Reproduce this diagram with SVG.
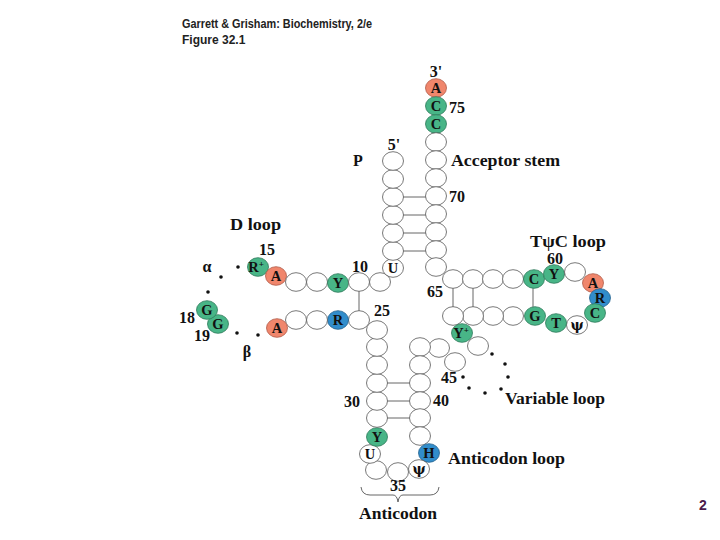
<svg xmlns="http://www.w3.org/2000/svg" width="720" height="540" viewBox="0 0 720 540">
<style>
.n{fill:#fff;stroke:#555;stroke-width:0.8}
.g{fill:#48b587;stroke:#2f7a5a;stroke-width:0.8}
.s{fill:#f0866c;stroke:#b05a48;stroke-width:0.8}
.b{fill:#318dcb;stroke:#25628e;stroke-width:0.8}
.t{font-family:"Liberation Serif","DejaVu Serif",serif;font-weight:bold;font-size:14.5px;fill:#111;text-anchor:middle}
.psi{font-family:"DejaVu Serif","Liberation Serif",serif;font-size:14px}
.l{font-family:"Liberation Serif","DejaVu Serif",serif;font-weight:bold;font-size:16px;fill:#111}
.c{text-anchor:middle}
.h{font-family:"Liberation Sans",Arial,sans-serif;font-weight:bold;font-size:12px;fill:#222}
.p{stroke:#555;stroke-width:0.9;fill:none}
.d{fill:#111}
</style>
<rect width="720" height="540" fill="#fff"/>
<text class="h" x="182" y="28" textLength="190" lengthAdjust="spacingAndGlyphs">Garrett &amp; Grisham: Biochemistry, 2/e</text>
<text class="h" x="182" y="44">Figure 32.1</text>
<g id="connectors">
<path class="p" d="M403 197H426M403 215H426M403 233H426M403 251H426"/>
<path class="p" d="M359 291V311"/>
<path class="p" d="M387 383H410M387 401H410M387 418H410"/>
<path class="p" d="M453 287V308M473 287V308M533 287V308"/>
<path class="p" d="M361 487Q362 495 370 495H393Q397 495 398 502Q399 495 403 495H430Q438 495 439 487"/>
<g class="d">
<circle cx="492" cy="354" r="1.8"/><circle cx="505" cy="364" r="1.8"/><circle cx="508" cy="377" r="1.8"/><circle cx="501" cy="389" r="1.8"/><circle cx="485" cy="393" r="1.8"/><circle cx="469" cy="388" r="1.8"/><circle cx="463" cy="377" r="1.8"/>
<circle cx="238" cy="267" r="1.8"/><circle cx="221" cy="277" r="1.8"/><circle cx="208" cy="292" r="1.8"/><circle cx="237" cy="333" r="1.8"/><circle cx="258" cy="335" r="1.8"/>
</g>
</g>
<!-- acceptor 3' strand -->
<g id="a76"><ellipse class="s" cx="436" cy="88" rx="10.5" ry="9.3"/><text class="t" x="436" y="93">A</text></g>
<g id="c75"><ellipse class="g" cx="436" cy="106" rx="10.5" ry="9.3"/><text class="t" x="436" y="111">C</text></g>
<g id="c74"><ellipse class="g" cx="436" cy="124" rx="10.5" ry="9.3"/><text class="t" x="436" y="129">C</text></g>
<g id="n73"><ellipse class="n" cx="436" cy="142" rx="10.5" ry="9.3"/></g>
<g id="n72"><ellipse class="n" cx="436" cy="160" rx="10.5" ry="9.3"/></g>
<g id="n71"><ellipse class="n" cx="436" cy="178" rx="10.5" ry="9.3"/></g>
<g id="n70"><ellipse class="n" cx="436" cy="196" rx="10.5" ry="9.3"/></g>
<g id="n69"><ellipse class="n" cx="436" cy="214" rx="10.5" ry="9.3"/></g>
<g id="n68"><ellipse class="n" cx="436" cy="232" rx="10.5" ry="9.3"/></g>
<g id="n67"><ellipse class="n" cx="436" cy="250" rx="10.5" ry="9.3"/></g>
<g id="n66"><ellipse class="n" cx="436" cy="267" rx="10.5" ry="9.3"/></g>
<!-- T arm -->
<g id="n65"><ellipse class="n" cx="453" cy="279" rx="10.5" ry="9.3"/></g>
<g id="n64"><ellipse class="n" cx="473" cy="279" rx="10.5" ry="9.3"/></g>
<g id="n63"><ellipse class="n" cx="493" cy="279" rx="10.5" ry="9.3"/></g>
<g id="n62"><ellipse class="n" cx="513" cy="279" rx="10.5" ry="9.3"/></g>
<g id="c61"><ellipse class="g" cx="534" cy="279" rx="10.5" ry="9.3"/><text class="t" x="534" y="284">C</text></g>
<g id="y60"><ellipse class="g" cx="554" cy="274" rx="10.5" ry="9.3"/><text class="t" x="554" y="279">Y</text></g>
<g id="n59"><ellipse class="n" cx="575" cy="272" rx="10.5" ry="9.3"/></g>
<g id="a58"><ellipse class="s" cx="593" cy="283" rx="10.5" ry="9.3"/><text class="t" x="593" y="288">A</text></g>
<g id="r57"><ellipse class="b" cx="600" cy="298" rx="10.5" ry="9.3"/><text class="t" x="600" y="303">R</text></g>
<g id="c56"><ellipse class="g" cx="595" cy="313" rx="10.5" ry="9.3"/><text class="t" x="595" y="318">C</text></g>
<g id="psi55"><ellipse class="n" cx="577" cy="325" rx="10.5" ry="9.3"/><text class="t psi" x="577" y="330">ψ</text></g>
<g id="t54"><ellipse class="g" cx="556" cy="323" rx="10.5" ry="9.3"/><text class="t" x="556" y="328">T</text></g>
<g id="g53"><ellipse class="g" cx="535" cy="316" rx="10.5" ry="9.3"/><text class="t" x="535" y="321">G</text></g>
<g id="n52"><ellipse class="n" cx="513" cy="316" rx="10.5" ry="9.3"/></g>
<g id="n51"><ellipse class="n" cx="493" cy="316" rx="10.5" ry="9.3"/></g>
<g id="n50"><ellipse class="n" cx="473" cy="316" rx="10.5" ry="9.3"/></g>
<g id="n49"><ellipse class="n" cx="453" cy="316" rx="10.5" ry="9.3"/></g>
<g id="y48"><ellipse class="g" cx="462" cy="333" rx="10.5" ry="9.3"/><text class="t" x="461" y="338">Y<tspan font-size="9" dy="-5">+</tspan></text></g>
<g id="n47"><ellipse class="n" cx="478" cy="346" rx="10.5" ry="9.3"/></g>
<!-- anticodon arm right -->
<g id="n44"><ellipse class="n" cx="455" cy="362" rx="10.5" ry="9.3"/></g>
<g id="n43"><ellipse class="n" cx="439" cy="348" rx="10.5" ry="9.3"/></g>
<g id="n42"><ellipse class="n" cx="420" cy="347" rx="10.5" ry="9.3"/></g>
<g id="n41"><ellipse class="n" cx="420" cy="365" rx="10.5" ry="9.3"/></g>
<g id="n40"><ellipse class="n" cx="420" cy="383" rx="10.5" ry="9.3"/></g>
<g id="n39"><ellipse class="n" cx="420" cy="401" rx="10.5" ry="9.3"/></g>
<g id="n38"><ellipse class="n" cx="420" cy="418" rx="10.5" ry="9.3"/></g>
<g id="n37b"><ellipse class="n" cx="420" cy="436" rx="10.5" ry="9.3"/></g>
<g id="h37"><ellipse class="b" cx="429" cy="453" rx="10.5" ry="9.3"/><text class="t" x="429" y="458">H</text></g>
<g id="psi36"><ellipse class="n" cx="419" cy="469" rx="10.5" ry="9.3"/><text class="t psi" x="419" y="474">ψ</text></g>
<g id="n35"><ellipse class="n" cx="398" cy="472" rx="10.5" ry="9.3"/></g>
<g id="n34"><ellipse class="n" cx="376" cy="470" rx="10.5" ry="9.3"/></g>
<g id="u33"><ellipse class="n" cx="370" cy="454" rx="10.5" ry="9.3"/><text class="t" x="370" y="459">U</text></g>
<g id="y32"><ellipse class="g" cx="377" cy="437" rx="10.5" ry="9.3"/><text class="t" x="377" y="442">Y</text></g>
<g id="n31"><ellipse class="n" cx="377" cy="418" rx="10.5" ry="9.3"/></g>
<g id="n30"><ellipse class="n" cx="377" cy="401" rx="10.5" ry="9.3"/></g>
<g id="n29"><ellipse class="n" cx="377" cy="383" rx="10.5" ry="9.3"/></g>
<g id="n28"><ellipse class="n" cx="377" cy="365" rx="10.5" ry="9.3"/></g>
<g id="n27"><ellipse class="n" cx="377" cy="347" rx="10.5" ry="9.3"/></g>
<g id="n26"><ellipse class="n" cx="377" cy="330" rx="10.5" ry="9.3"/></g>
<!-- D arm -->
<g id="n25"><ellipse class="n" cx="359" cy="320" rx="10.5" ry="9.3"/></g>
<g id="r24"><ellipse class="b" cx="338" cy="320" rx="10.5" ry="9.3"/><text class="t" x="338" y="325">R</text></g>
<g id="n23"><ellipse class="n" cx="317" cy="320" rx="10.5" ry="9.3"/></g>
<g id="n22"><ellipse class="n" cx="296" cy="320" rx="10.5" ry="9.3"/></g>
<g id="a21"><ellipse class="s" cx="277" cy="328" rx="10.5" ry="9.3"/><text class="t" x="277" y="333">A</text></g>
<g id="g19"><ellipse class="g" cx="218" cy="324" rx="10.5" ry="9.3"/><text class="t" x="218" y="329">G</text></g>
<g id="g18"><ellipse class="g" cx="207" cy="310" rx="10.5" ry="9.3"/><text class="t" x="207" y="315">G</text></g>
<g id="r15"><ellipse class="g" cx="258" cy="267" rx="10.5" ry="9.3"/><text class="t" x="256" y="272">R<tspan font-size="9" dy="-5">+</tspan></text></g>
<g id="a14"><ellipse class="s" cx="276" cy="276" rx="10.5" ry="9.3"/><text class="t" x="276" y="281">A</text></g>
<g id="n13"><ellipse class="n" cx="296" cy="282" rx="10.5" ry="9.3"/></g>
<g id="n12"><ellipse class="n" cx="317" cy="282" rx="10.5" ry="9.3"/></g>
<g id="y11"><ellipse class="g" cx="338" cy="283" rx="10.5" ry="9.3"/><text class="t" x="338" y="288">Y</text></g>
<g id="n10"><ellipse class="n" cx="359" cy="282" rx="10.5" ry="9.3"/></g>
<g id="n9"><ellipse class="n" cx="380" cy="282" rx="10.5" ry="9.3"/></g>
<g id="u8"><ellipse class="n" cx="393" cy="268" rx="10.5" ry="9.3"/><text class="t" x="393" y="273">U</text></g>
<!-- acceptor 5' strand -->
<g id="n7"><ellipse class="n" cx="393" cy="251" rx="10.5" ry="9.3"/></g>
<g id="n6"><ellipse class="n" cx="393" cy="233" rx="10.5" ry="9.3"/></g>
<g id="n5"><ellipse class="n" cx="393" cy="215" rx="10.5" ry="9.3"/></g>
<g id="n4"><ellipse class="n" cx="393" cy="197" rx="10.5" ry="9.3"/></g>
<g id="n3"><ellipse class="n" cx="393" cy="179" rx="10.5" ry="9.3"/></g>
<g id="n2"><ellipse class="n" cx="393" cy="161" rx="10.5" ry="9.3"/></g>
<!-- labels -->
<g id="labels" class="l">
<text class="c" x="436" y="77">3'</text>
<text x="449" y="113">75</text>
<text class="c" x="394" y="150">5'</text>
<text class="c" x="358" y="166">P</text>
<text x="451" y="166" textLength="109" lengthAdjust="spacingAndGlyphs">Acceptor stem</text>
<text x="449" y="202">70</text>
<text x="230" y="230" textLength="51" lengthAdjust="spacingAndGlyphs">D loop</text>
<text class="c" x="267" y="255">15</text>
<text class="c" x="207" y="272">α</text>
<text class="c" x="360" y="272">10</text>
<text class="c" x="187" y="323">18</text>
<text class="c" x="202" y="341">19</text>
<text class="c" x="247" y="357">β</text>
<text class="c" x="382" y="316">25</text>
<text class="c" x="435" y="297">65</text>
<text x="530" y="247" textLength="76" lengthAdjust="spacingAndGlyphs">TψC loop</text>
<text class="c" x="555" y="264">60</text>
<text class="c" x="449" y="383">45</text>
<text x="505" y="404" textLength="100" lengthAdjust="spacingAndGlyphs">Variable loop</text>
<text class="c" x="352" y="407">30</text>
<text class="c" x="441" y="406">40</text>
<text x="448" y="464" textLength="117" lengthAdjust="spacingAndGlyphs">Anticodon loop</text>
<text class="c" x="398" y="491">35</text>
<text x="359" y="519" textLength="78" lengthAdjust="spacingAndGlyphs">Anticodon</text>
</g>
<text x="703" y="510" font-family="Liberation Sans,Arial,sans-serif" font-weight="bold" font-size="14" fill="#4a1a4a" text-anchor="middle">2</text>
</svg>
